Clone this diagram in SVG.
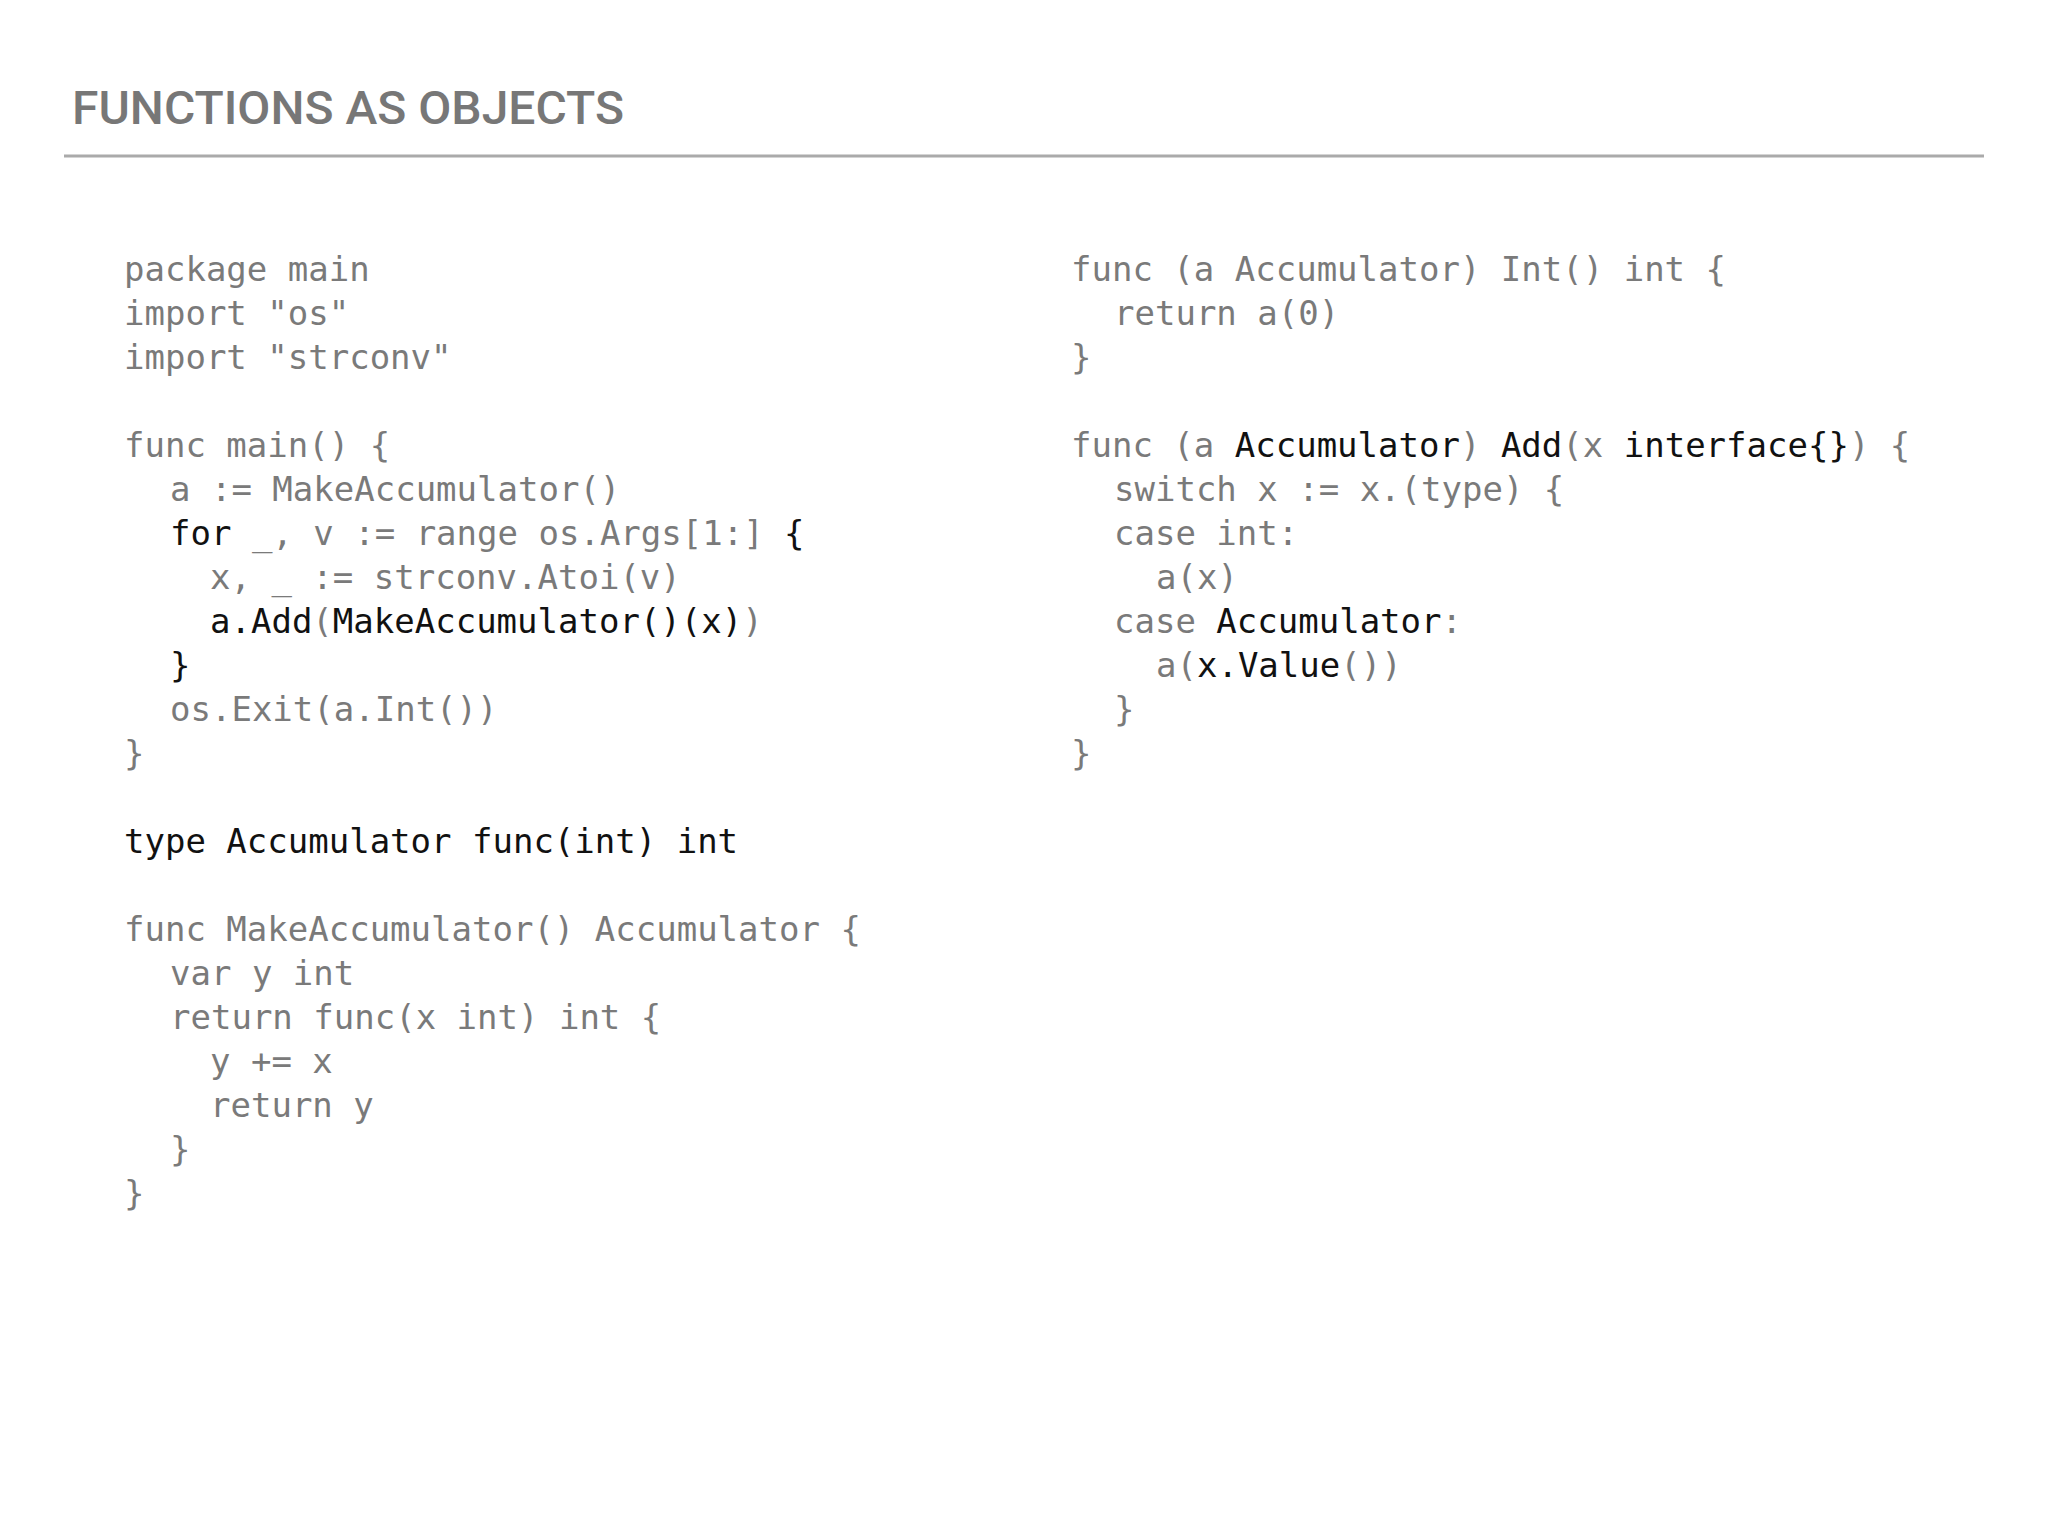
<svg xmlns="http://www.w3.org/2000/svg" width="2048" height="1536" viewBox="0 0 2048 1536">
<style>
.t{font-family:"DejaVu Sans Mono","Liberation Mono",monospace;font-size:34px;fill:#7a7a7a;white-space:pre}
.b{fill:#111}
.h{font-family:Roboto,"DejaVu Sans",sans-serif;font-size:46px;fill:#777;font-weight:500}
</style>
<rect width="2048" height="1536" fill="#fff"/>
<g id="title">
<text class="h" x="72" y="124" textLength="552" lengthAdjust="spacingAndGlyphs">FUNCTIONS AS OBJECTS</text>
<line x1="64" y1="156" x2="1984" y2="156" stroke="#aaa" stroke-width="3"/>
</g>
<g id="left">
<text class="t" x="124" y="281">package main</text>
<text class="t" x="124" y="325">import "os"</text>
<text class="t" x="124" y="369">import "strconv"</text>
<text class="t" x="124" y="457">func main() {</text>
<text class="t" x="170" y="501">a := MakeAccumulator()</text>
<text class="t" x="170" y="545"><tspan class="b">for</tspan> _, v := range os.Args[1:] <tspan class="b">{</tspan></text>
<text class="t" x="210" y="589">x, _ := strconv.Atoi(v)</text>
<text class="t" x="210" y="633"><tspan class="b">a.Add</tspan>(<tspan class="b">MakeAccumulator()(x)</tspan>)</text>
<text class="t b" x="170" y="677">}</text>
<text class="t" x="170" y="721">os.Exit(a.Int())</text>
<text class="t" x="124" y="765">}</text>
<text class="t b" x="124" y="853">type Accumulator func(int) int</text>
<text class="t" x="124" y="941">func MakeAccumulator() Accumulator {</text>
<text class="t" x="170" y="985">var y int</text>
<text class="t" x="170" y="1029">return func(x int) int {</text>
<text class="t" x="210" y="1073">y += x</text>
<text class="t" x="210" y="1117">return y</text>
<text class="t" x="170" y="1161">}</text>
<text class="t" x="124" y="1205">}</text>
</g>
<g id="right">
<text class="t" x="1071" y="281">func (a Accumulator) Int() int {</text>
<text class="t" x="1114" y="325">return a(0)</text>
<text class="t" x="1071" y="369">}</text>
<text class="t" x="1071" y="457">func (a <tspan class="b">Accumulator</tspan>) <tspan class="b">Add</tspan>(x <tspan class="b">interface{}</tspan>) {</text>
<text class="t" x="1114" y="501">switch x := x.(type) {</text>
<text class="t" x="1114" y="545">case int:</text>
<text class="t" x="1156" y="589">a(x)</text>
<text class="t" x="1114" y="633">case <tspan class="b">Accumulator</tspan>:</text>
<text class="t" x="1156" y="677">a(<tspan class="b">x.Value</tspan>())</text>
<text class="t" x="1114" y="721">}</text>
<text class="t" x="1071" y="765">}</text>
</g>
<g id="connectors"/>
</svg>
